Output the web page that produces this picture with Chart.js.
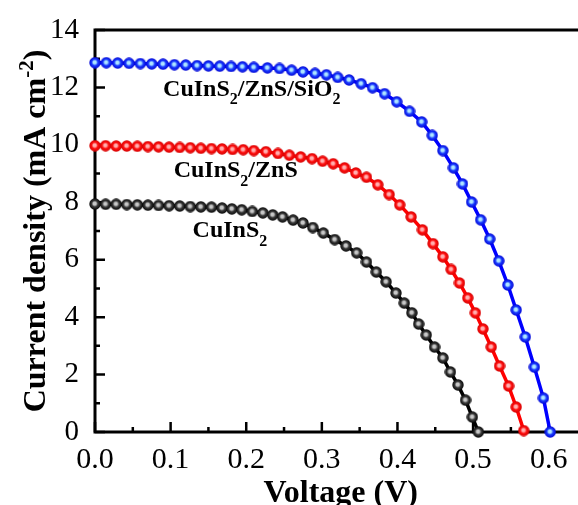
<!DOCTYPE html>
<html>
<head>
<meta charset="utf-8">
<script src="https://cdn.jsdelivr.net/npm/chart.js@4.4.1/dist/chart.umd.min.js"></script>
<style>
  html, body { margin: 0; padding: 0; background: #fff; overflow: hidden; }
  #wrap { width: 596px; height: 505px; }
</style>
</head>
<body>
<div id="wrap"><canvas id="jv" width="596" height="505"></canvas></div>
<script>
// J-V data (V in volts, J in mA cm^-2)
const voltageCIS = [0.000, 0.014, 0.028, 0.042, 0.056, 0.070, 0.084, 0.098, 0.112, 0.126, 0.140, 0.154, 0.168, 0.181, 0.194, 0.208, 0.222, 0.235, 0.248, 0.262, 0.275, 0.288, 0.302, 0.317, 0.332, 0.346, 0.359, 0.372, 0.385, 0.398, 0.409, 0.419, 0.428, 0.438, 0.449, 0.460, 0.470, 0.480, 0.490, 0.499, 0.507];
const currentCIS = [7.94, 7.93, 7.93, 7.92, 7.91, 7.90, 7.89, 7.88, 7.87, 7.85, 7.84, 7.83, 7.80, 7.77, 7.74, 7.68, 7.63, 7.56, 7.49, 7.38, 7.28, 7.12, 6.93, 6.70, 6.48, 6.24, 5.92, 5.57, 5.23, 4.84, 4.49, 4.15, 3.76, 3.38, 2.96, 2.58, 2.09, 1.64, 1.11, 0.52, 0.00];

const voltageZnS = [0.000, 0.014, 0.028, 0.042, 0.056, 0.070, 0.084, 0.098, 0.112, 0.126, 0.140, 0.154, 0.168, 0.182, 0.196, 0.210, 0.226, 0.242, 0.257, 0.272, 0.287, 0.301, 0.315, 0.330, 0.345, 0.359, 0.374, 0.389, 0.403, 0.418, 0.433, 0.447, 0.460, 0.471, 0.482, 0.493, 0.503, 0.513, 0.524, 0.535, 0.547, 0.557, 0.567];
const currentZnS = [9.97, 9.97, 9.96, 9.96, 9.95, 9.94, 9.93, 9.92, 9.91, 9.90, 9.88, 9.87, 9.86, 9.84, 9.83, 9.80, 9.76, 9.70, 9.64, 9.58, 9.52, 9.43, 9.34, 9.20, 9.02, 8.87, 8.61, 8.27, 7.91, 7.49, 7.04, 6.56, 6.10, 5.66, 5.19, 4.67, 4.15, 3.59, 2.96, 2.30, 1.60, 0.87, 0.05];

const voltageSiO2 = [0.000, 0.015, 0.030, 0.045, 0.060, 0.075, 0.090, 0.105, 0.120, 0.135, 0.150, 0.165, 0.180, 0.195, 0.210, 0.228, 0.244, 0.260, 0.275, 0.291, 0.306, 0.321, 0.336, 0.352, 0.367, 0.383, 0.399, 0.416, 0.432, 0.446, 0.460, 0.474, 0.486, 0.498, 0.510, 0.522, 0.534, 0.546, 0.557, 0.569, 0.581, 0.593, 0.602];
const currentSiO2 = [12.86, 12.86, 12.85, 12.84, 12.83, 12.82, 12.81, 12.79, 12.78, 12.76, 12.75, 12.74, 12.73, 12.72, 12.70, 12.68, 12.66, 12.60, 12.54, 12.49, 12.44, 12.35, 12.26, 12.13, 11.99, 11.78, 11.50, 11.17, 10.80, 10.33, 9.80, 9.20, 8.64, 8.01, 7.39, 6.72, 5.96, 5.12, 4.25, 3.31, 2.26, 1.18, 0.00];

const xTicksMajor = [0.0, 0.1, 0.2, 0.3, 0.4, 0.5, 0.6];
const yTicksMajor = [0, 2, 4, 6, 8, 10, 12, 14];

const SERIF = '"Liberation Serif", "Times New Roman", serif';

function pts(vs, js) { return vs.map((v, i) => ({ x: v, y: js[i] })); }

// glossy ball marker
function sphere(light, base, dark) {
    const c = document.createElement('canvas');
    c.width = c.height = 12;
    const g = c.getContext('2d');
    const gr = g.createRadialGradient(5.6, 5.4, 0.2, 6, 6, 6);
    gr.addColorStop(0, light);
    gr.addColorStop(0.22, light);
    gr.addColorStop(0.5, base);
    gr.addColorStop(1, dark);
    g.fillStyle = gr;
    g.beginPath();
    g.arc(6, 6, 5.7, 0, Math.PI * 2);
    g.fill();
    return c;
}

// text with sub/superscripts, drawn left to right from x
function richText(ctx, parts, x, y, size, measureOnly) {
    let w = 0;
    parts.forEach(p => {
        const s = p.sub || p.sup ? Math.round(size * 0.66) : size;
        ctx.font = 'bold ' + s + 'px ' + SERIF;
        const dy = p.sub ? size * 0.36 : p.sup ? -size * 0.38 : 0;
        if (!measureOnly) ctx.fillText(p.t, x + w, y + dy);
        w += ctx.measureText(p.t).width;
    });
    return w;
}

const curveLabels = [
    { v: 0.090, j: 11.71, parts: [{ t: 'CuInS' }, { t: '2', sub: true }, { t: '/ZnS/SiO' }, { t: '2', sub: true }] },
    { v: 0.104, j: 8.88, parts: [{ t: 'CuInS' }, { t: '2', sub: true }, { t: '/ZnS' }] },
    { v: 0.129, j: 6.79, parts: [{ t: 'CuInS' }, { t: '2', sub: true }] }
];

const framePlugin = {
    id: 'frame',
    beforeDatasetsDraw(chart) {
        const { ctx, chartArea: a, scales: { x, y } } = chart;
        ctx.save();
        ctx.strokeStyle = '#000';
        ctx.lineWidth = 2.5;
        ctx.beginPath();
        x.ticks.forEach(t => {
            const px = x.getPixelForValue(t.value);
            const major = xTicksMajor.some(m => Math.abs(m - t.value) < 1e-6);
            ctx.moveTo(px, a.bottom);
            ctx.lineTo(px, a.bottom - (major ? 10 : 5));
        });
        y.ticks.forEach(t => {
            const py = y.getPixelForValue(t.value);
            const major = yTicksMajor.includes(t.value);
            ctx.moveTo(a.left, py);
            ctx.lineTo(a.left + (major ? 10 : 5), py);
        });
        ctx.stroke();
        ctx.lineWidth = 3;
        ctx.strokeRect(a.left, a.top, a.right - a.left, a.bottom - a.top);
        ctx.restore();
    },
    afterDatasetsDraw(chart) {
        const { ctx, chartArea: a, scales: { x, y } } = chart;
        ctx.save();
        ctx.fillStyle = '#000';
        ctx.textBaseline = 'alphabetic';
        ctx.textAlign = 'left';
        curveLabels.forEach(l => {
            richText(ctx, l.parts, x.getPixelForValue(l.v), y.getPixelForValue(l.j), 24);
        });

        // axis titles
        const xt = [{ t: 'Voltage (V)' }];
        const xw = richText(ctx, xt, 0, 0, 32, true);
        richText(ctx, xt, (a.left + a.right) / 2 - xw / 2, 502, 32);

        const yt = [{ t: 'Current density (mA cm' }, { t: '-2', sup: true }, { t: ')' }];
        const yw = richText(ctx, yt, 0, 0, 32, true);
        ctx.translate(45, 231);
        ctx.rotate(-Math.PI / 2);
        richText(ctx, yt, -yw / 2, 0, 32);
        ctx.restore();
    }
};

const series = [
    { label: 'CuInS2', data: pts(voltageCIS, currentCIS), color: '#000000', ball: sphere('#c8c8c8', '#3a3a3a', '#000000') },
    { label: 'CuInS2/ZnS', data: pts(voltageZnS, currentZnS), color: '#ff0000', ball: sphere('#ffb0b0', '#ff1010', '#d00000') },
    { label: 'CuInS2/ZnS/SiO2', data: pts(voltageSiO2, currentSiO2), color: '#0000ff', ball: sphere('#aee6ff', '#1a3cff', '#0000d0') }
];

new Chart(document.getElementById('jv'), {
    type: 'line',
    data: {
        datasets: series.map(s => ({
            label: s.label,
            data: s.data,
            borderColor: s.color,
            backgroundColor: s.color,
            borderWidth: 3.5,
            tension: 0,
            pointStyle: s.ball,
            pointRadius: 6,
            clip: false
        }))
    },
    options: {
        responsive: false,
        animation: false,
        devicePixelRatio: 1,
        layout: { padding: { top: 30, right: 5, left: 0, bottom: 0 } },
        plugins: { legend: { display: false }, tooltip: { enabled: false } },
        scales: {
            x: {
                type: 'linear',
                min: 0,
                max: 0.65,
                grid: { display: false },
                border: { display: false },
                afterFit: s => { s.height = 73; },
                ticks: {
                    stepSize: 0.05,
                    autoSkip: false,
                    maxRotation: 0,
                    padding: 2,
                    color: '#000',
                    font: { family: SERIF, size: 30 },
                    callback: v => xTicksMajor.some(m => Math.abs(m - v) < 1e-6) ? v.toFixed(1) : ''
                }
            },
            y: {
                min: 0,
                max: 14,
                grid: { display: false },
                border: { display: false },
                afterFit: s => { s.width = 95; },
                ticks: {
                    stepSize: 1,
                    autoSkip: false,
                    padding: 8,
                    color: '#000',
                    font: { family: SERIF, size: 29 },
                    callback: v => yTicksMajor.includes(v) ? String(v) : ''
                }
            }
        }
    },
    plugins: [framePlugin]
});
</script>
</body>
</html>
